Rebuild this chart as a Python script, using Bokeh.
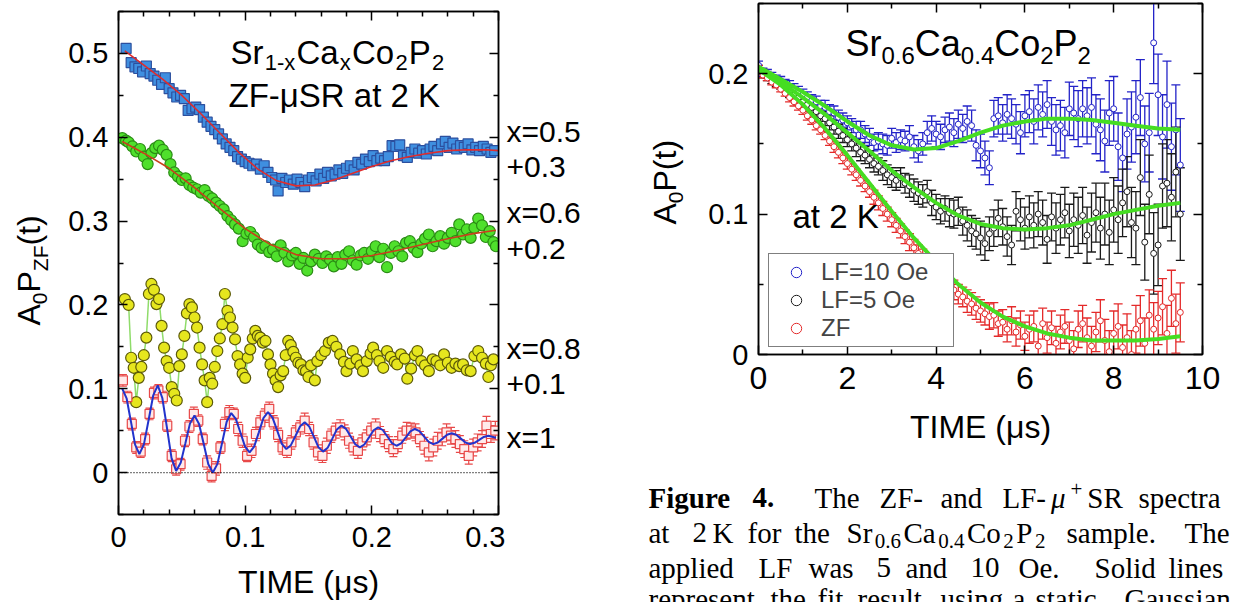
from bokeh.plotting import figure
from bokeh.models import (Label, Legend, LegendItem, LinearAxis, FixedTicker, Whisker,
                          TeeHead, ColumnDataSource, Span, Range1d, CustomLabelingPolicy)
from bokeh.layouts import row, column
from bokeh.embed import file_html
from bokeh.resources import INLINE
import math

FONT = "Liberation Sans"
SERIF = "Liberation Serif"

# ---------------- LEFT PANEL DATA (ZF-muSR, Sr1-xCaxCo2P2) ----------------
x05_t = [0.006,0.010,0.013,0.016,0.019,0.022,0.025,0.028,0.031,0.034,0.037,0.040,0.043,0.046,0.049,
         0.052,0.055,0.058,0.061,0.064,0.067,0.070,0.073,0.076,0.079,0.082,0.085,0.088,0.091,0.094,
         0.097,0.100,0.103,0.106,0.109,0.112,0.115,0.118,0.121,0.124,0.126,0.129,0.132,0.135,0.138,
         0.141,0.144,0.147,0.150,0.153,0.156,0.159,0.162,0.165,0.168,0.171,0.174,0.177,0.180,0.183,
         0.186,0.189,0.192,0.195,0.198,0.201,0.204,0.207,0.210,0.213,0.216,0.219,0.222,0.225,0.228,
         0.231,0.234,0.237,0.240,0.243,0.246,0.249,0.252,0.255,0.258,0.261,0.264,0.267,0.270,0.273,
         0.276,0.279,0.282,0.285,0.288,0.291,0.294,0.297]
x05_v = [0.506,0.489,0.484,0.482,0.478,0.485,0.476,0.473,0.468,0.463,0.471,0.458,0.453,0.448,0.450,
         0.446,0.432,0.434,0.436,0.433,0.424,0.418,0.413,0.409,0.404,0.398,0.392,0.388,0.384,0.377,
         0.374,0.371,0.369,0.366,0.368,0.362,0.366,0.358,0.352,0.349,0.336,0.351,0.346,0.349,0.344,
         0.350,0.346,0.341,0.349,0.352,0.348,0.356,0.351,0.358,0.354,0.356,0.361,0.357,0.363,0.366,
         0.361,0.370,0.368,0.374,0.371,0.378,0.372,0.375,0.372,0.377,0.390,0.389,0.391,0.378,0.376,
         0.382,0.386,0.381,0.384,0.380,0.386,0.389,0.384,0.392,0.395,0.388,0.393,0.386,0.390,0.388,
         0.392,0.385,0.388,0.384,0.389,0.386,0.382,0.384]
x05_fit_t = [0.005,0.020,0.035,0.050,0.065,0.080,0.095,0.110,0.125,0.140,0.155,0.170,0.185,0.200,
             0.215,0.230,0.245,0.260,0.275,0.290,0.300]
x05_fit_v = [0.503,0.486,0.469,0.450,0.428,0.405,0.382,0.362,0.348,0.342,0.343,0.349,0.357,0.365,
             0.372,0.377,0.381,0.384,0.385,0.385,0.384]

x06_t = [0.003,0.006,0.008,0.011,0.014,0.017,0.020,0.023,0.026,0.029,0.032,0.035,0.038,0.041,0.044,
         0.047,0.050,0.053,0.056,0.059,0.062,0.065,0.068,0.071,0.074,0.077,0.080,0.083,0.086,0.089,
         0.092,0.095,0.098,0.101,0.104,0.107,0.110,0.113,0.116,0.119,0.122,0.125,0.128,0.131,0.134,
         0.137,0.140,0.143,0.146,0.149,0.152,0.155,0.158,0.161,0.164,0.167,0.170,0.173,0.176,0.179,
         0.182,0.185,0.188,0.191,0.194,0.197,0.200,0.203,0.206,0.209,0.212,0.215,0.218,0.221,0.224,
         0.227,0.230,0.233,0.236,0.239,0.242,0.245,0.248,0.251,0.254,0.257,0.260,0.263,0.266,0.269,
         0.272,0.275,0.278,0.281,0.284,0.287,0.290,0.293,0.296,0.298]
x06_v = [0.399,0.396,0.394,0.389,0.383,0.386,0.377,0.368,0.381,0.387,0.390,0.385,0.379,0.368,0.358,
         0.353,0.349,0.351,0.343,0.340,0.338,0.334,0.337,0.330,0.327,0.322,0.318,0.314,0.306,0.301,
         0.296,0.291,0.276,0.285,0.287,0.281,0.272,0.268,0.270,0.263,0.266,0.258,0.271,0.262,0.252,
         0.259,0.262,0.249,0.256,0.241,0.252,0.260,0.255,0.250,0.258,0.254,0.246,0.257,0.249,0.260,
         0.264,0.253,0.248,0.259,0.262,0.255,0.264,0.270,0.257,0.267,0.245,0.262,0.270,0.264,0.258,
         0.274,0.276,0.268,0.263,0.273,0.279,0.284,0.270,0.276,0.282,0.273,0.280,0.286,0.276,0.296,
         0.284,0.290,0.280,0.292,0.303,0.295,0.281,0.288,0.275,0.270]
x06_fit_t = [0.003,0.020,0.040,0.060,0.080,0.100,0.120,0.140,0.160,0.180,0.200,0.220,0.240,0.260,
             0.280,0.298]
x06_fit_v = [0.395,0.381,0.363,0.340,0.315,0.291,0.272,0.260,0.255,0.255,0.259,0.265,0.272,0.279,
             0.285,0.289]

x08_t = [0.005,0.008,0.010,0.012,0.014,0.016,0.018,0.020,0.022,0.024,0.026,0.028,0.030,0.032,0.034,
         0.036,0.038,0.040,0.042,0.044,0.046,0.048,0.050,0.052,0.054,0.056,0.058,0.060,0.062,0.064,
         0.066,0.068,0.070,0.072,0.074,0.076,0.078,0.080,0.082,0.084,0.086,0.088,0.090,0.092,0.094,
         0.096,0.098,0.100,0.102,0.104,0.106,0.108,0.110,0.112,0.114,0.116,0.118,0.120,0.122,0.124,
         0.126,0.128,0.130,0.132,0.134,0.136,0.138,0.140,0.142,0.144,0.146,0.148,0.150,0.152,0.155,
         0.157,0.160,0.163,0.166,0.169,0.172,0.175,0.178,0.180,0.183,0.185,0.188,0.191,0.193,0.196,
         0.199,0.201,0.204,0.206,0.209,0.212,0.215,0.218,0.220,0.223,0.226,0.228,0.231,0.234,0.236,
         0.239,0.242,0.245,0.248,0.251,0.254,0.257,0.260,0.263,0.266,0.269,0.272,0.275,0.278,0.281,
         0.284,0.287,0.290,0.292,0.294,0.296]
x08_v = [0.207,0.200,0.137,0.125,0.084,0.113,0.126,0.140,0.161,0.213,0.225,0.218,0.201,0.207,0.175,
         0.149,0.133,0.125,0.102,0.094,0.086,0.127,0.141,0.163,0.190,0.201,0.197,0.185,0.173,0.149,
         0.129,0.110,0.084,0.113,0.106,0.126,0.145,0.160,0.177,0.213,0.193,0.185,0.173,0.159,0.139,
         0.129,0.118,0.113,0.137,0.147,0.160,0.169,0.163,0.161,0.155,0.157,0.141,0.129,0.118,0.110,
         0.102,0.116,0.121,0.140,0.157,0.152,0.144,0.137,0.131,0.129,0.122,0.121,0.114,0.128,0.110,
         0.133,0.140,0.145,0.155,0.157,0.150,0.141,0.132,0.121,0.130,0.145,0.135,0.128,0.121,0.133,
         0.142,0.149,0.140,0.133,0.125,0.145,0.138,0.132,0.129,0.141,0.136,0.112,0.124,0.140,0.145,
         0.133,0.128,0.121,0.135,0.133,0.128,0.141,0.131,0.125,0.130,0.127,0.129,0.122,0.121,0.139,
         0.145,0.137,0.130,0.114,0.128,0.135]

x1_t = [0.0035,0.0070,0.0105,0.0140,0.0175,0.0210,0.0245,0.0280,0.0315,0.0350,0.0385,0.0420,0.0455,
        0.0490,0.0525,0.0560,0.0595,0.0630,0.0665,0.0700,0.0735,0.0770,0.0805,0.0840,0.0875,0.0910,
        0.0945,0.0980,0.1015,0.1050,0.1085,0.1120,0.1155,0.1190,0.1225,0.1260,0.1295,0.1330,0.1365,
        0.1400,0.1435,0.1470,0.1505,0.1540,0.1575,0.1610,0.1645,0.1680,0.1715,0.1750,0.1785,0.1820,
        0.1855,0.1890,0.1925,0.1960,0.1995,0.2030,0.2065,0.2100,0.2135,0.2170,0.2205,0.2240,0.2275,
        0.2310,0.2345,0.2380,0.2415,0.2450,0.2485,0.2520,0.2555,0.2590,0.2625,0.2660,0.2695,0.2730,
        0.2765,0.2800,0.2835,0.2870,0.2905,0.2940,0.2975]
x1_v = [0.110,0.090,0.058,0.030,0.025,0.040,0.070,0.095,0.098,0.090,0.056,0.020,0.004,0.010,0.038,
        0.055,0.070,0.062,0.040,0.012,-0.004,0.005,0.030,0.058,0.072,0.070,0.052,0.038,0.020,0.026,
        0.046,0.060,0.068,0.076,0.060,0.045,0.030,0.026,0.036,0.048,0.054,0.062,0.052,0.036,0.024,
        0.020,0.032,0.044,0.050,0.054,0.048,0.038,0.030,0.026,0.036,0.042,0.050,0.055,0.046,0.040,
        0.034,0.028,0.034,0.044,0.050,0.050,0.048,0.040,0.032,0.024,0.030,0.038,0.042,0.048,0.044,
        0.040,0.034,0.028,0.020,0.030,0.036,0.040,0.056,0.046,0.050]
x1_err = [0.007,0.007,0.007,0.007,0.007,0.007,0.007,0.007,0.007,0.007,0.007,0.007,0.007,0.007,0.007,
          0.007,0.008,0.007,0.007,0.008,0.007,0.008,0.007,0.008,0.008,0.007,0.008,0.008,0.007,0.008,
          0.008,0.008,0.008,0.008,0.008,0.008,0.008,0.008,0.008,0.008,0.008,0.009,0.008,0.008,0.009,
          0.008,0.009,0.008,0.009,0.009,0.009,0.009,0.009,0.009,0.009,0.009,0.009,0.009,0.009,0.009,
          0.009,0.009,0.009,0.009,0.010,0.009,0.010,0.009,0.010,0.010,0.010,0.010,0.010,0.010,0.010,
          0.010,0.010,0.010,0.010,0.010,0.010,0.010,0.011,0.010,0.011]
x1_fit_t = [0.0030,0.0064,0.0098,0.0131,0.0165,0.0201,0.0238,0.0274,0.0310,0.0346,0.0383,0.0419,
            0.0455,0.0491,0.0528,0.0564,0.0600,0.0636,0.0673,0.0709,0.0745,0.0781,0.0818,0.0854,
            0.0890,0.0926,0.0963,0.0999,0.1035,0.1071,0.1108,0.1144,0.1180,0.1216,0.1253,0.1289,
            0.1325,0.1361,0.1398,0.1434,0.1470,0.1506,0.1543,0.1579,0.1615,0.1651,0.1688,0.1724,
            0.1760,0.1796,0.1833,0.1869,0.1905,0.1941,0.1978,0.2014,0.2050,0.2086,0.2123,0.2159,
            0.2195,0.2231,0.2268,0.2304,0.2340,0.2376,0.2413,0.2449,0.2485,0.2521,0.2558,0.2594,
            0.2630,0.2666,0.2703,0.2739,0.2775,0.2811,0.2848,0.2884,0.2920,0.2980]
x1_fit_v = [0.100,0.0886,0.061,0.0334,0.022,0.034,0.063,0.092,0.104,0.089,0.053,0.017,
            0.002,0.0116,0.035,0.0584,0.068,0.058,0.034,0.010,0.000,0.0104,0.0355,0.0606,
            0.071,0.064,0.0475,0.031,0.024,0.031,0.048,0.065,0.072,0.0656,0.050,0.0344,
            0.028,0.0327,0.044,0.0553,0.060,0.0549,0.0425,0.0301,0.025,0.0295,0.0405,0.0515,
            0.056,0.0522,0.043,0.0338,0.030,0.0335,0.042,0.0505,0.054,0.0508,0.043,0.0352,
            0.032,0.0349,0.042,0.0491,0.052,0.0494,0.043,0.0366,0.034,0.0359,0.0405,0.0451,
            0.047,0.0451,0.0405,0.0359,0.034,0.0355,0.039,0.0425,0.044,0.0415]

left_xticks = [0, 0.1, 0.2, 0.3]
left_xminor = [0.02,0.04,0.06,0.08,0.12,0.14,0.16,0.18,0.22,0.24,0.26,0.28]
left_yticks = [0, 0.1, 0.2, 0.3, 0.4, 0.5]
left_yminor = [-0.05,0.05,0.15,0.25,0.35,0.45,0.55]
side_labels = ["x=0.5", "+0.3", "x=0.6", "+0.2", "x=0.8", "+0.1", "x=1"]
side_label_px = [131, 166, 212, 248, 348, 383, 437]

# ---------------- RIGHT PANEL DATA (Sr0.6Ca0.4Co2P2) ----------------
t_r = [0.0,0.1,0.2,0.3,0.4,0.5,0.6,0.7,0.8,0.9,1.0,1.1,1.2,1.3,1.4,1.5,1.6,1.7,1.8,1.9,
       2.0,2.1,2.2,2.3,2.4,2.5,2.6,2.7,2.8,2.9,3.0,3.1,3.2,3.3,3.4,3.5,3.6,3.7,3.8,3.9,
       4.0,4.1,4.2,4.3,4.4,4.5,4.6,4.7,4.8,4.9,5.0,5.1,5.2,5.3,5.4,5.5,5.6,5.7,5.8,5.9,
       6.0,6.1,6.2,6.3,6.4,6.5,6.6,6.7,6.8,6.9,7.0,7.1,7.2,7.3,7.4,7.5,7.6,7.7,7.8,7.9,
       8.0,8.1,8.2,8.3,8.4,8.5,8.6,8.7,8.8,8.9,9.0,9.1,9.2,9.3,9.4,9.5]
lf10_v = [0.206,0.201,0.200,0.198,0.196,0.195,0.193,0.191,0.189,0.187,0.185,0.183,0.181,0.180,0.177,
          0.176,0.173,0.172,0.169,0.167,0.165,0.163,0.160,0.160,0.157,0.155,0.151,0.152,0.150,0.149,
          0.154,0.151,0.153,0.152,0.155,0.148,0.145,0.150,0.158,0.161,0.157,0.155,0.160,0.162,0.158,
          0.164,0.161,0.166,0.163,0.149,0.145,0.140,0.133,0.168,0.170,0.165,0.171,0.168,0.164,0.158,
          0.170,0.173,0.166,0.176,0.171,0.178,0.166,0.160,0.163,0.158,0.175,0.172,0.168,0.175,0.170,
          0.176,0.164,0.160,0.152,0.172,0.175,0.148,0.140,0.157,0.162,0.169,0.183,0.150,0.158,0.222,
          0.185,0.155,0.178,0.148,0.160,0.135]
lf5_v = [0.203,0.200,0.198,0.196,0.194,0.192,0.190,0.187,0.185,0.183,0.180,0.178,0.176,0.173,0.170,
         0.168,0.165,0.162,0.159,0.156,0.153,0.150,0.147,0.144,0.142,0.139,0.136,0.134,0.131,0.128,
         0.126,0.124,0.126,0.122,0.120,0.117,0.115,0.113,0.116,0.108,0.105,0.102,0.104,0.101,0.100,
         0.102,0.095,0.092,0.088,0.086,0.083,0.079,0.086,0.090,0.097,0.091,0.084,0.078,0.102,0.096,
         0.090,0.098,0.092,0.100,0.094,0.082,0.098,0.090,0.096,0.101,0.088,0.096,0.092,0.099,0.085,
         0.094,0.101,0.090,0.100,0.087,0.103,0.096,0.108,0.116,0.094,0.090,0.126,0.080,0.114,0.072,
         0.078,0.120,0.122,0.112,0.130,0.100]
zf_v = [0.204,0.199,0.197,0.194,0.192,0.189,0.186,0.183,0.180,0.177,0.174,0.170,0.167,0.163,0.160,
        0.156,0.152,0.148,0.144,0.140,0.136,0.132,0.128,0.124,0.120,0.116,0.112,0.108,0.104,0.100,
        0.096,0.092,0.088,0.084,0.080,0.076,0.072,0.069,0.065,0.062,0.058,0.055,0.052,0.049,0.046,
        0.043,0.041,0.038,0.036,0.033,0.031,0.029,0.027,0.028,0.022,0.023,0.018,0.024,0.016,0.021,
        0.013,0.018,0.020,0.006,0.022,0.012,0.019,0.008,0.016,0.020,0.010,0.004,0.018,0.022,0.012,
        0.006,0.016,0.024,0.010,0.002,0.015,0.020,0.005,0.012,0.000,0.018,0.024,0.008,0.028,0.018,
        0.026,0.034,0.015,0.040,0.022,0.030]
err_lf = [0.003,0.003,0.003,0.003,0.003,0.003,0.003,0.004,0.004,0.004,
          0.004,0.004,0.004,0.004,0.004,0.005,0.005,0.005,0.005,0.005,
          0.005,0.005,0.006,0.006,0.006,0.006,0.006,0.006,0.007,0.007,
          0.007,0.007,0.007,0.007,0.008,0.008,0.008,0.008,0.008,0.009,
          0.009,0.009,0.009,0.010,0.010,0.010,0.010,0.011,0.011,0.011,
          0.012,0.012,0.012,0.013,0.013,0.013,0.014,0.014,0.014,0.015,
          0.015,0.015,0.016,0.016,0.016,0.017,0.017,0.018,0.018,0.018,
          0.019,0.019,0.020,0.020,0.020,0.021,0.021,0.022,0.022,0.023,
          0.023,0.024,0.024,0.025,0.025,0.026,0.027,0.027,0.028,0.029,
          0.029,0.030,0.031,0.031,0.032,0.033]
err_zf = [0.002,0.002,0.002,0.002,0.002,0.002,0.002,0.003,0.003,0.003,
          0.003,0.003,0.003,0.003,0.003,0.003,0.003,0.004,0.004,0.004,
          0.004,0.004,0.004,0.004,0.004,0.004,0.005,0.005,0.005,0.005,
          0.005,0.005,0.005,0.005,0.006,0.006,0.006,0.006,0.006,0.006,
          0.006,0.007,0.007,0.007,0.007,0.007,0.007,0.008,0.008,0.008,
          0.008,0.008,0.009,0.009,0.009,0.009,0.009,0.010,0.010,0.010,
          0.010,0.010,0.011,0.011,0.011,0.011,0.012,0.012,0.012,0.012,
          0.013,0.013,0.013,0.013,0.014,0.014,0.014,0.015,0.015,0.015,
          0.016,0.016,0.016,0.017,0.017,0.017,0.018,0.018,0.018,0.019,
          0.019,0.020,0.020,0.020,0.021,0.021]
fit_t = [0.0,0.5,1.0,1.5,2.0,2.5,3.0,3.5,4.0,4.5,5.0,5.5,6.0,6.5,7.0,7.5,8.0,8.5,9.0,9.5]
lf10_fit = [0.205,0.196,0.187,0.177,0.166,0.156,0.149,0.146,0.147,0.152,0.158,0.163,0.166,0.168,
            0.168,0.167,0.165,0.163,0.161,0.160]
lf5_fit = [0.203,0.194,0.183,0.171,0.158,0.145,0.131,0.119,0.108,0.099,0.093,0.090,0.089,0.090,
           0.092,0.096,0.100,0.103,0.106,0.108]
zf_fit = [0.203,0.192,0.178,0.161,0.142,0.122,0.102,0.083,0.066,0.050,0.037,0.027,0.020,0.015,
          0.012,0.010,0.010,0.010,0.011,0.013]
right_xticks = [0, 2, 4, 6, 8, 10]
right_xminor = [1, 3, 5, 7, 9]
right_yticks = [0, 0.1, 0.2]
right_yminor = [0.05, 0.15, 0.25]
legend_labels = ["LF=10 Oe", "LF=5 Oe", "ZF"]

# ---------------- text width helpers ----------------
AR = {'A':667,'P':667,'Z':611,'F':611,'S':667,'C':722,'K':667,'R':722,'T':611,'I':278,'M':833,
      'E':667,'L':556,'O':778,'a':556,'r':333,'o':556,'x':500,'t':278,'e':556,'s':500,'.':278,
      '-':333,'=':584,'+':584,'(':333,')':333,' ':278,'\u03bc':576}
TR = {'a':444,'b':500,'c':444,'d':500,'e':444,'f':333,'g':500,'h':500,'i':278,'l':278,'m':778,
      'n':500,'o':500,'p':500,'r':333,'s':389,'t':278,'u':500,'w':722,'y':500,' ':250,'.':250,
      '-':333,'+':564,'A':722,'C':667,'F':556,'G':722,'K':722,'L':611,'O':722,'P':556,'R':667,
      'S':556,'T':611,'Z':611,'\u03bc':500}
MID = {FONT: 0.347, SERIF: 0.338}   # baseline -> middle of the em box


def tw(s, size, table):
    return sum(table.get(c, 500 if table is TR else 556) for c in s) / 1000.0 * size


def compose(p, conv, px, py, pieces, font, table, angle=0.0, color="black", gap=0.0):
    """Lay out text pieces on a common baseline (px, py are page pixels)."""
    adv = 0.0
    for text, size, shift, style in pieces:
        k = MID[font] * size
        if angle == 0.0:
            X, Y = px + adv, py + shift - k
        else:
            X, Y = px + shift - k, py - adv
        dx, dy = conv(X, Y)
        p.add_layout(Label(x=dx, y=dy, text=text, text_font=font, text_font_size=f"{size}px",
                           text_font_style=style, text_baseline="middle", text_align="left",
                           angle=angle, text_color=color))
        adv += tw(text, size, table) + gap


def ident(X, Y):
    return X, Y


def text_fig(x0, x1, y0, y1):
    f = figure(width=x1 - x0, height=y1 - y0, x_range=Range1d(x0, x1), y_range=Range1d(y1, y0),
               output_backend="svg", toolbar_location=None, x_axis_type=None, y_axis_type=None,
               title=None, min_border=0, min_border_left=0, min_border_right=0,
               min_border_top=0, min_border_bottom=0, frame_align=False)
    f.outline_line_color = None
    f.background_fill_color = "white"
    f.border_fill_color = "white"
    return f


NO_LABELS = CustomLabelingPolicy(code="for (const i of indices) { indices.unset(i) }\nreturn indices")


def style_axis(ax, size, standoff, show=True):
    ax.axis_line_color = "black"
    ax.axis_line_width = 1.5
    ax.major_tick_in = 9
    ax.major_tick_out = 0
    ax.minor_tick_in = 5
    ax.minor_tick_out = 0
    ax.major_tick_line_color = "black"
    ax.minor_tick_line_color = "black"
    ax.major_tick_line_width = 1.5
    ax.minor_tick_line_width = 1.5
    ax.major_label_text_font = FONT
    ax.major_label_text_color = "black"
    if show:
        ax.major_label_text_font_size = f"{size}px"
        ax.major_label_standoff = standoff
    else:
        ax.major_label_text_font_size = "0px"
        ax.major_label_standoff = 0
        ax.major_label_policy = NO_LABELS


def frame_axes(p, xt, xm, yt, ym, xsize, ysize, xstand, ystand):
    xtk = FixedTicker(ticks=xt, minor_ticks=xm)
    ytk = FixedTicker(ticks=yt, minor_ticks=ym)
    bottom = p.below[0]
    left = p.left[0]
    bottom.ticker = xtk
    left.ticker = ytk
    style_axis(bottom, xsize, xstand)
    style_axis(left, ysize, ystand)
    bottom.major_label_overrides = {0: "0"}
    left.major_label_overrides = {0: "0"}
    top = LinearAxis(ticker=xtk)
    right = LinearAxis(ticker=ytk)
    style_axis(top, 0, 0, show=False)
    style_axis(right, 0, 0, show=False)
    p.add_layout(top, "above")
    p.add_layout(right, "right")
    p.xgrid.visible = False
    p.ygrid.visible = False
    p.outline_line_color = "black"
    p.outline_line_width = 1.5
    p.background_fill_color = "white"
    p.border_fill_color = "white"
    bottom.axis_label = "TIME (\u03bcs)"
    bottom.axis_label_text_font = FONT
    bottom.axis_label_text_font_size = "32px"
    bottom.axis_label_text_font_style = "normal"
    bottom.axis_label_text_color = "black"
    return bottom


# ---------------- LEFT FIGURE ----------------
LX0, LX1 = 62, 505            # page span of the left plot canvas
LFL, LFR, LFT, LFB = 118, 498, 11, 514
pL = figure(width=LX1 - LX0, height=602, x_range=Range1d(0, 0.3), y_range=Range1d(-0.05, 0.55),
            output_backend="svg", toolbar_location=None, frame_align=False, title=None,
            min_border_left=LFL - LX0, min_border_right=LX1 - LFR, min_border_top=LFT,
            min_border_bottom=602 - LFB)
bL = frame_axes(pL, left_xticks, left_xminor, left_yticks, left_yminor, 29, 29, 12, 10)
bL.axis_label_standoff = 14


def convL(X, Y):
    return ((X - LFL) / (LFR - LFL) * 0.3, 0.55 - (Y - LFT) / (LFB - LFT) * 0.6)


pL.add_layout(Span(location=0, dimension="width", line_color="black", line_width=1.2,
                   line_dash="1 2"))

pL.line(x08_t, x08_v, line_color="#8fdc6a", line_width=1.5)
pL.scatter(x08_t, x08_v, marker="circle", size=11, fill_color="#e6e61e", line_color="#5c5a08",
           line_width=1.2)
src1 = ColumnDataSource(dict(t=x1_t, v=x1_v, lo=[v - e for v, e in zip(x1_v, x1_err)],
                             hi=[v + e for v, e in zip(x1_v, x1_err)]))
pL.add_layout(Whisker(source=src1, base="t", lower="lo", upper="hi", line_color="#e84848",
                      line_width=1.2,
                      upper_head=TeeHead(size=8, line_color="#e84848", line_width=1.2),
                      lower_head=TeeHead(size=8, line_color="#e84848", line_width=1.2)))
pL.scatter("t", "v", source=src1, marker="square", size=9, fill_color="#ffeaea",
           line_color="#e84848", line_width=1.2)
pL.line(x1_fit_t, x1_fit_v, line_color="#2233cc", line_width=2)
pL.scatter(x06_t, x06_v, marker="circle", size=11, fill_color="#4fe02c", line_color="#2a8c14",
           line_width=1.2)
pL.line(x06_fit_t, x06_fit_v, line_color="#c8401c", line_width=1.6)
pL.scatter(x05_t, x05_v, marker="square", size=10, fill_color="#3f8fe0", line_color="#2c4f9e",
           line_width=1.2)
pL.line(x05_fit_t, x05_fit_v, line_color="#e02c2c", line_width=1.6)

compose(pL, convL, 230, 63, [("Sr", 33, 0, "normal"), ("1-x", 22, 7, "normal"),
                             ("Ca", 33, 0, "normal"), ("x", 22, 7, "normal"),
                             ("Co", 33, 0, "normal"), ("2", 22, 7, "normal"),
                             ("P", 33, 0, "normal"), ("2", 22, 7, "normal")], FONT, AR, gap=1.2)
compose(pL, convL, 228, 106, [("ZF-\u03bcSR at 2 K", 33, 0, "normal")], FONT, AR)

# y-axis label strip for the left panel
yl = text_fig(0, LX0, 0, 602)
compose(yl, ident, 40, 325, [("A", 32, 0, "normal"), ("0", 21, 7, "normal"),
                             ("P", 32, 0, "normal"), ("ZF", 21, 7, "normal"),
                             ("(t)", 32, 0, "normal")], FONT, AR, angle=math.pi / 2)

# side labels strip (x=..., +...)
sl = text_fig(LX1, 620, 0, 602)
for txt, yp in zip(side_labels, side_label_px):
    sl.add_layout(Label(x=506, y=yp, text=txt, text_font=FONT, text_font_size="30px",
                        text_baseline="middle", text_align="left", text_color="black"))

# ---------------- RIGHT FIGURE ----------------
RX0, RX1, RY1 = 700, 1236, 470
RFL, RFR, RFT, RFB = 758, 1202, 3, 354
pR = figure(width=RX1 - RX0, height=RY1, x_range=Range1d(0, 10), y_range=Range1d(0, 0.25),
            output_backend="svg", toolbar_location=None, frame_align=False, title=None,
            min_border_left=RFL - RX0, min_border_right=RX1 - RFR, min_border_top=RFT,
            min_border_bottom=RY1 - RFB)
bR = frame_axes(pR, right_xticks, right_xminor, right_yticks, right_yminor, 32, 29, 12, 10)
bR.axis_label_standoff = 17


def convR(X, Y):
    return ((X - RFL) / (RFR - RFL) * 10.0, 0.25 - (Y - RFT) / (RFB - RFT) * 0.25)


series = [(lf10_v, err_lf, "#2323c8"), (lf5_v, err_lf, "#1a1a1a"), (zf_v, err_zf, "#e42a2a")]
rends = []
for vals, errs, col in series:
    src = ColumnDataSource(dict(t=t_r, v=vals, lo=[v - e for v, e in zip(vals, errs)],
                                hi=[v + e for v, e in zip(vals, errs)]))
    pR.add_layout(Whisker(source=src, base="t", lower="lo", upper="hi", line_color=col,
                          line_width=1.3,
                          upper_head=TeeHead(size=9, line_color=col, line_width=1.3),
                          lower_head=TeeHead(size=9, line_color=col, line_width=1.3)))
    r = pR.scatter("t", "v", source=src, marker="circle", size=6, fill_color="white",
                   line_color=col, line_width=1)
    rends.append(r)
for fv in (lf10_fit, lf5_fit, zf_fit):
    pR.line(fit_t, fv, line_color="#45dd22", line_width=4)

leg = Legend(items=[LegendItem(label=lab, renderers=[r]) for lab, r in zip(legend_labels, rends)],
             location=(10, 7), border_line_color="black", border_line_width=1.5,
             background_fill_color="white", background_fill_alpha=1.0,
             label_text_font=FONT, label_text_font_size="24px", glyph_width=46,
             glyph_height=26, label_standoff=2, padding=4, spacing=0, margin=0,
             label_height=26, label_width=128)
pR.add_layout(leg)

compose(pR, convR, 845, 55, [("Sr", 36, 0, "normal"), ("0.6", 24, 8, "normal"),
                             ("Ca", 36, 0, "normal"), ("0.4", 24, 8, "normal"),
                             ("Co", 36, 0, "normal"), ("2", 24, 8, "normal"),
                             ("P", 36, 0, "normal"), ("2", 24, 8, "normal")], FONT, AR)
compose(pR, convR, 792, 227, [("at 2 K", 33, 0, "normal")], FONT, AR)

yr = text_fig(620, RX0, 0, RY1)
compose(yr, ident, 676, 224, [("A", 32, 0, "normal"), ("0", 21, 7, "normal"),
                              ("P", 32, 0, "normal"), ("(t)", 32, 0, "normal")], FONT, AR,
        angle=math.pi / 2)

# ---------------- caption ----------------
cap = text_fig(620, 1236, RY1, 602)
CS = 29
SUB = 21
cap_lines = [
    (507, [(648, [("Figure", CS, 0, "bold")], 0), (752, [("4.", CS, 0, "bold")], 0),
           (814, [("The", CS, 0, "normal")], 0), (879, [("ZF-", CS, 0, "normal")], 0),
           (940, [("and", CS, 0, "normal")], 0),
           (1002, [("LF-", CS, 0, "normal"), ("\u03bc", CS, 0, "italic"), ("+", SUB, -11, "normal"),
                   ("SR", CS, 0, "normal")], 5),
           (1138, [("spectra", CS, 0, "normal")], 0)]),
    (542, [(648, [("at", CS, 0, "normal")], 0), (692, [("2", CS, 0, "normal")], 0),
           (712, [("K", CS, 0, "normal")], 0), (747, [("for", CS, 0, "normal")], 0),
           (794, [("the", CS, 0, "normal")], 0),
           (846, [("Sr", CS, 0, "normal"), ("0.6", SUB, 6, "normal"), ("Ca", CS, 0, "normal"),
                  ("0.4", SUB, 6, "normal"), ("Co", CS, 0, "normal"), ("2", SUB, 6, "normal"),
                  ("P", CS, 0, "normal"), ("2", SUB, 6, "normal")], 2.5),
           (1066, [("sample.", CS, 0, "normal")], 0), (1184, [("The", CS, 0, "normal")], 0)]),
    (577, [(648, [("applied", CS, 0, "normal")], 0), (758, [("LF", CS, 0, "normal")], 0),
           (808, [("was", CS, 0, "normal")], 0), (876, [("5", CS, 0, "normal")], 0),
           (905, [("and", CS, 0, "normal")], 0), (970, [("10", CS, 0, "normal")], 0),
           (1018, [("Oe.", CS, 0, "normal")], 0), (1094, [("Solid", CS, 0, "normal")], 0),
           (1168, [("lines", CS, 0, "normal")], 0)]),
    (608, [(648, [("represent", CS, 0, "normal")], 0), (770, [("the", CS, 0, "normal")], 0),
           (817, [("fit", CS, 0, "normal")], 0), (857, [("result", CS, 0, "normal")], 0),
           (940, [("using", CS, 0, "normal")], 0), (1012, [("a", CS, 0, "normal")], 0),
           (1035, [("static", CS, 0, "normal")], 0), (1124, [("Gaussian", CS, 0, "normal")], 0)]),
]
for base_y, words in cap_lines:
    for x0, pieces, g in words:
        compose(cap, ident, x0, base_y, pieces, SERIF, TR, gap=g)

layout = row(yl, pL, sl, column(row(yr, pR), cap))
open("out.html", "w").write(file_html(layout, INLINE))
